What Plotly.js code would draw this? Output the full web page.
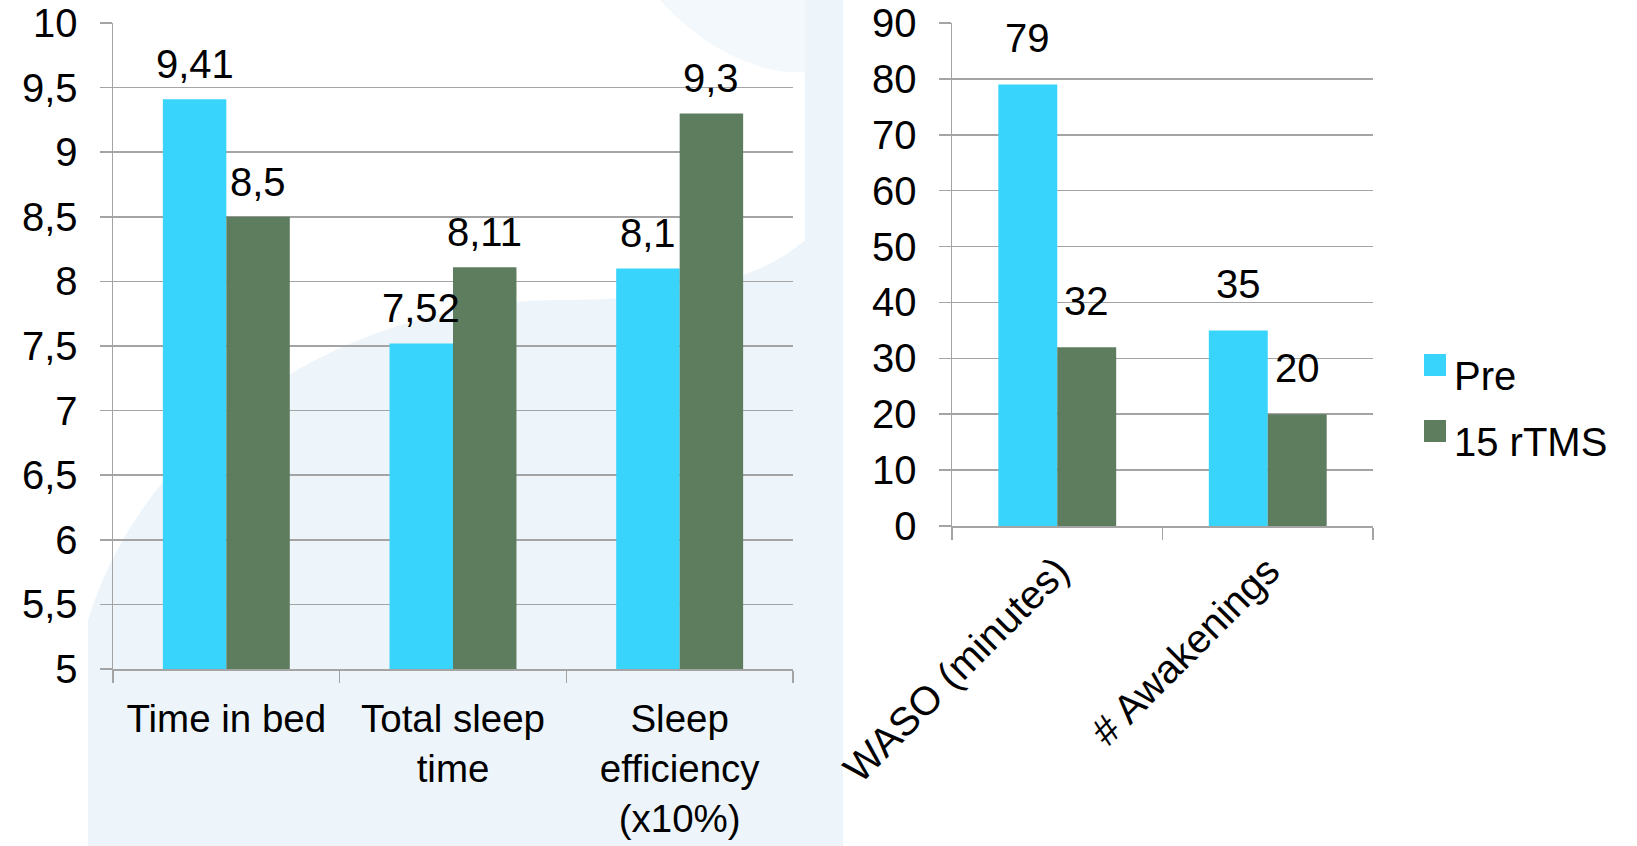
<!DOCTYPE html>
<html>
<head>
<meta charset="utf-8">
<script src="https://cdn.plot.ly/plotly-3.0.1.min.js"></script>
<style>
  html, body { margin: 0; padding: 0; background: #ffffff; }
  #chart { width: 1637px; height: 846px; }
</style>
</head>
<body>
<div id="chart"></div>
<script>
// Sleep parameters before and after 15 rTMS sessions
const sleepCategories = ["Time in bed", "Total sleep time", "Sleep efficiency"];
const sleepTickLabels = ["Time in bed", "Total sleep<br>time", "Sleep<br>efficiency<br>(x10%)"];
const sleepPre = [9.41, 7.52, 8.1];
const sleepPost = [8.5, 8.11, 9.3];

const wakeCategories = ["WASO (minutes)", "# Awakenings"];
const wakePre = [79, 35];
const wakePost = [32, 20];

const seriesNames = ["Pre", "15 rTMS"];

const W = 1637, H = 846;
const PRE_COLOR = "#38d4fc";
const POST_COLOR = "#5e7d5f";
const GRID = "#a4a4a4";
const FONT = "Liberation Sans, Arial, Helvetica, sans-serif";
const FS = 40;
const BARGAP = 0.44;

// plot boxes in page pixels
const leftBox = { x0: 113, x1: 793, top: 23, bottom: 669 };
const rightBox = { x0: 952, x1: 1373, top: 23, bottom: 526 };
const fx = p => p / W;
const fy = p => 1 - p / H;

function bar(x, y, name, color, xa, ya) {
  return { type: "bar", x: x, y: y, name: name, xaxis: xa, yaxis: ya,
           marker: { color: color, line: { width: 0 } }, showlegend: false,
           hoverinfo: "x+y+name" };
}

const traces = [
  bar(sleepCategories, sleepPre, seriesNames[0], PRE_COLOR, "x", "y"),
  bar(sleepCategories, sleepPost, seriesNames[1], POST_COLOR, "x", "y"),
  bar(wakeCategories, wakePre, seriesNames[0], PRE_COLOR, "x2", "y2"),
  bar(wakeCategories, wakePost, seriesNames[1], POST_COLOR, "x2", "y2")
];

const fmt = v => String(v).replace(".", ",");

// value labels above each bar
function valueLabels(cats, pre, post, box, xref, yref, lift) {
  const catPx = (box.x1 - box.x0) / cats.length;
  const half = catPx * (1 - BARGAP) / 4;
  const out = [];
  cats.forEach((c, i) => {
    [[pre[i], -half], [post[i], half]].forEach(([v, dx]) => {
      out.push({ x: c, y: v, xref: xref, yref: yref, text: fmt(v),
                 showarrow: false, xanchor: "center", yanchor: "bottom",
                 xshift: dx, yshift: lift,
                 font: { family: FONT, size: FS, color: "#000" } });
    });
  });
  return out;
}

const annotations = []
  .concat(valueLabels(sleepCategories, sleepPre, sleepPost, leftBox, "x", "y", 11))
  .concat(valueLabels(wakeCategories, wakePre, wakePost, rightBox, "x2", "y2", 22));

// legend
const legendX = 1424, legendSq = 22, legendRows = [365, 431];
const shapes = [];
seriesNames.forEach((n, i) => {
  const cy = legendRows[i];
  shapes.push({ type: "rect", xref: "paper", yref: "paper",
                x0: fx(legendX), x1: fx(legendX + legendSq),
                y0: fy(cy + legendSq / 2), y1: fy(cy - legendSq / 2),
                fillcolor: i === 0 ? PRE_COLOR : POST_COLOR, line: { width: 0 } });
  annotations.push({ xref: "paper", yref: "paper", x: fx(legendX + legendSq + 6), y: fy(cy + 11),
                     xanchor: "left", yanchor: "middle", showarrow: false, text: n,
                     font: { family: FONT, size: FS, color: "#000" } });
});

// soft blue backdrop of the slide
const tint = "rgba(214,232,244,0.42)";
shapes.push({ type: "path", layer: "below", xref: "paper", yref: "paper", line: { width: 0 },
  fillcolor: tint,
  path: `M ${fx(88)},${fy(846)} L ${fx(88)},${fy(620)} C ${fx(150)},${fy(420)} ${fx(360)},${fy(300)} ${fx(560)},${fy(300)} C ${fx(680)},${fy(300)} ${fx(760)},${fy(280)} ${fx(805)},${fy(240)} L ${fx(805)},${fy(0)} L ${fx(843)},${fy(0)} L ${fx(843)},${fy(846)} Z` });
shapes.push({ type: "path", layer: "below", xref: "paper", yref: "paper", line: { width: 0 },
  fillcolor: "rgba(214,232,244,0.3)",
  path: `M ${fx(660)},${fy(0)} C ${fx(705)},${fy(50)} ${fx(760)},${fy(75)} ${fx(805)},${fy(72)} L ${fx(805)},${fy(0)} Z` });

function yAxis(box, range, dtick, standoff) {
  return { domain: [fy(box.bottom), fy(box.top)], range: range, dtick: dtick,
           tick0: range[0], showgrid: true, gridcolor: GRID, gridwidth: 1.5,
           zeroline: false, showline: true, linecolor: GRID, linewidth: 1.5,
           ticks: "outside", ticklen: 12, tickwidth: 1.5, tickcolor: GRID,
           ticklabelstandoff: standoff, fixedrange: true,
           tickfont: { family: FONT, size: FS, color: "#000" } };
}
function xAxis(box, anchor, extra) {
  return Object.assign({ domain: [fx(box.x0), fx(box.x1)], anchor: anchor, type: "category",
           showgrid: false, zeroline: false, showline: true, linecolor: GRID, linewidth: 1.5,
           ticks: "outside", tickson: "boundaries", ticklen: 12, tickwidth: 1.5, tickcolor: GRID,
           fixedrange: true, tickfont: { family: FONT, size: FS, color: "#000" } }, extra);
}

const layout = {
  width: W, height: H,
  margin: { l: 0, r: 0, t: 0, b: 0 },
  paper_bgcolor: "#ffffff",
  plot_bgcolor: "rgba(0,0,0,0)",
  separators: ",.",
  barmode: "group",
  bargap: BARGAP,
  bargroupgap: 0,
  showlegend: false,
  font: { family: FONT, size: FS, color: "#000" },
  xaxis: xAxis(leftBox, "y", { tickvals: sleepCategories, ticktext: sleepTickLabels, tickangle: 0,
                               ticklabelstandoff: 15, tickfont: { family: FONT, size: 38.5, color: "#000" } }),
  yaxis: yAxis(leftBox, [5, 10], 0.5, 14),
  xaxis2: xAxis(rightBox, "y2", { tickangle: -45, ticklabelstandoff: 4 }),
  yaxis2: Object.assign(yAxis(rightBox, [0, 90], 10, 14), { anchor: "x2" }),
  shapes: shapes,
  annotations: annotations
};
layout.yaxis.anchor = "x";

Plotly.newPlot("chart", traces, layout, { staticPlot: true, displayModeBar: false });
</script>
</body>
</html>
